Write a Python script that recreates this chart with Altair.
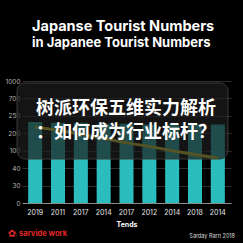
import altair as alt
import pandas as pd

years = ["2019", "2011", "2017", "2014", "2017", "2012", "2014", "2018", "2014"]
bar_vals = [4.65, 4.6, 4.6, 4.55, 4.55, 4.5, 4.5, 4.5, 4.5]
line_vals = [4.36, 4.18, 3.95, 3.7, 3.45, 3.25, 3.0, 2.78, 2.58]
y_labels = ["0", "30", "40", "100", "200", "250", "700", "1000"]

title1 = "Japanse Tourist Numbers"
title2 = "in Japanee Tourist Numbers"
cn1 = "树派环保五维实力解析"
cn2 = "：如何成为行业标杆？"
x_title = "Tends"
brand = "sarvide work"
credit = "Sarday Rarn 2018"

df = pd.DataFrame({"idx": list(range(len(years))), "bar": bar_vals, "line": line_vals})

W, H = 209, 122

x_axis = alt.Axis(
    labelExpr=f"{years}[datum.value]".replace("'", '"'),
    labelAngle=0, labelColor="#e6e6e6", labelFontSize=7, labelFont="Inter",
    labelPadding=5, ticks=False, domainColor="#8a8a8a", domainWidth=1,
    titleColor="#ffffff", titleFontSize=7, titleFont="Inter", titleFontWeight="bold",
    titlePadding=5,
)
x_scale = alt.Scale(paddingInner=0.385, paddingOuter=0.27)
y_scale = alt.Scale(domain=[0, 7], nice=False)
y_axis = alt.Axis(
    values=list(range(8)),
    labelExpr=f"{y_labels}[datum.value]".replace("'", '"'),
    labelColor="#b5b5b5", labelFontSize=6.5, labelFont="Inter", labelPadding=2,
    labelOverlap=False, labelBound=False, labelFlush=False,
    ticks=False, domain=False, grid=True, gridColor="#2e2e2e", gridWidth=1, title=None,
)

base = alt.Chart(df)
bars = base.mark_bar(color="#2bbdbd").encode(
    x=alt.X("idx:O", title=x_title, scale=x_scale, axis=x_axis),
    y=alt.Y("bar:Q", scale=y_scale, axis=y_axis),
)
line = base.mark_line(color="#d2d234", strokeWidth=3).encode(
    x=alt.X("idx:O", title=x_title, scale=x_scale, axis=x_axis),
    y=alt.Y("line:Q", scale=y_scale, axis=y_axis),
)

one = pd.DataFrame({"t": [""]})
overlay = alt.Chart(one).mark_rect(
    fill="#1c1c1c", fillOpacity=0.7, cornerRadius=8, stroke="#3a3a3a", strokeWidth=1
).encode(x=alt.value(-5), x2=alt.value(206), y=alt.value(2), y2=alt.value(78))


def txt(s, x, y, size, color, weight="bold", font="Inter", align="left"):
    return alt.Chart(pd.DataFrame({"t": [s]})).mark_text(
        align=align, baseline="middle", fontSize=size, fontWeight=weight, font=font, color=color
    ).encode(text="t:N", x=alt.value(x), y=alt.value(y))


t1 = txt(title1, 10, -54, 14.5, "#ffffff")
t2 = txt(title2, 10, -38, 13, "#ffffff")
c1 = txt(cn1, 14, 27.5, 18, "#ffffff", font="Noto Sans CJK SC")
c2 = txt(cn2, 14, 52, 18, "#ffffff", font="Noto Sans CJK SC")
icon = txt("✿", -10, 153, 10, "#e0282a", font="DejaVu Sans", align="center")
b = txt(brand, -3, 153, 7.6, "#e0282a")
cr = txt(credit, 213, 155, 5.5, "#dddddd", weight="normal", align="right")

chart = alt.layer(bars, line, overlay, t1, t2, c1, c2, icon, b, cr).properties(
    width=W, height=H, background="#000000",
    autosize=alt.AutoSizeParams(type="none"),
    padding={"left": 22, "top": 81, "right": 12, "bottom": 40},
).configure_view(stroke=None)

chart.save("out.html", embed_options={"renderer": "svg", "actions": False})
